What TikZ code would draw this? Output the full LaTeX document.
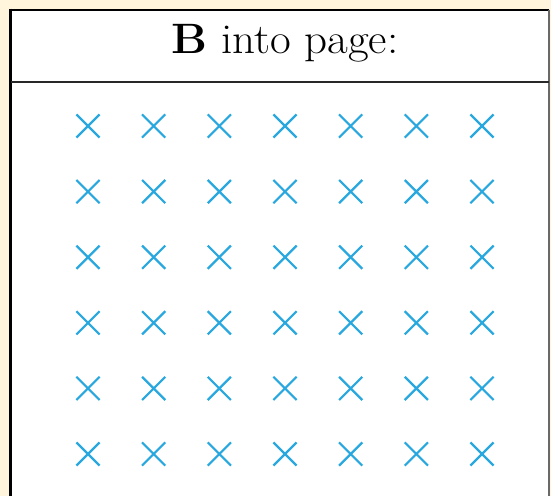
\documentclass[tikz,border=0pt]{standalone}
\usetikzlibrary{shapes.misc}
\definecolor{cream}{RGB}{255,244,220}
\definecolor{fieldblue}{RGB}{41,168,224}
\definecolor{sepgray}{RGB}{40,40,40}
\tikzset{
  fieldmark/.style={cross out, draw=fieldblue, line width=2.2pt, minimum size=21pt, inner sep=0pt},
  titletext/.style={font=\fontsize{42.5}{48}\selectfont, inner sep=0pt, anchor=base, xscale=1.06}
}
\begin{document}
\begin{tikzpicture}[x=1pt,y=-1pt]
  \useasboundingbox (0,0) rectangle (551,496);
  \fill[cream] (0,0) rectangle (551,496);
  \fill[white] (10.5,9.5) rectangle (549,496);
  % borders
  \draw[black, line width=2pt] (10.5,9.5) -- (549,9.5);
  \draw[black, line width=3pt] (10.5,8.5) -- (10.5,496);
  \draw[sepgray!70, line width=1.2pt] (549,9.5) -- (549,496);
  \draw[sepgray, line width=2.6pt] (10.5,82) -- (549,82);
  % title
  \node[titletext] (title) at (285,53) {\textbf{B} into page:};
  % field marks
  \foreach \i in {0,...,6}{
    \foreach \j in {0,...,5}{
      \node[fieldmark] (m\i\j) at ({88+65.67*\i},{126+65.6*\j}) {};
    }
  }
\end{tikzpicture}
\end{document}
